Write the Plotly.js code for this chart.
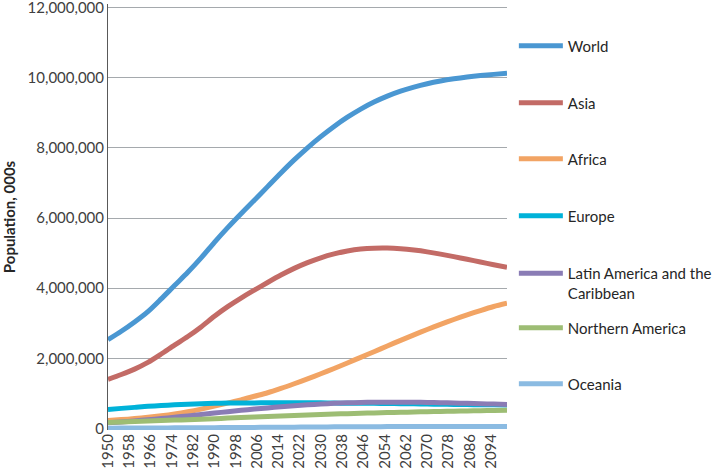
<!DOCTYPE html>
<html>
<head>
<meta charset="utf-8">
<script src="https://cdn.plot.ly/plotly-3.0.1.min.js"></script>
<style>html,body{margin:0;padding:0;background:#fff;}#chart{width:721px;height:471px;}</style>
</head>
<body>
<div id="chart"></div>
<script>
// Years (5-year steps, population in thousands)
const years = [1950,1955,1960,1965,1970,1975,1980,1985,1990,1995,2000,2005,2010,2015,2020,2025,2030,2035,2040,2045,2050,2055,2060,2065,2070,2075,2080,2085,2090,2095,2100];
const world = [2532229,2772882,3038413,3333007,3696186,4076419,4453007,4863290,5306425,5726239,6122770,6506649,6895889,7284296,7656528,8002978,8321380,8611867,8874041,9106022,9306128,9474102,9615036,9731877,9827456,9905465,9969050,10021219,10062527,10094452,10124926];
const asia = [1403389,1541000,1694000,1886000,2125000,2379000,2623000,2897000,3202000,3475000,3719000,3945000,4164000,4375000,4566000,4730000,4868000,4977000,5060000,5116000,5142000,5145000,5125000,5087000,5036000,4972000,4900000,4824000,4747000,4670000,4596000];
const africa = [229895,256000,285000,322000,367000,419000,482000,556000,639000,726000,819000,921000,1022000,1145000,1278000,1417000,1562000,1713000,1870000,2030000,2192000,2354000,2515000,2672000,2824000,2970000,3109000,3241000,3365000,3480000,3574000];
const europe = [547000,576000,605000,635000,657000,677000,694000,707000,721000,727000,727000,730000,738000,740000,739000,737000,733000,728000,723000,721000,719000,715000,710000,705000,699000,694000,689000,685000,681000,678000,675000];
const latam = [167000,191000,220000,252000,286000,323000,362000,402000,442000,483000,521000,557000,590000,622000,652000,678000,701000,719000,734000,744000,751000,754000,754000,751000,745000,738000,729000,719000,709000,698000,688000];
const namerica = [172000,187000,204000,219000,231000,242000,254000,267000,282000,299000,315000,330000,345000,360000,375000,389000,403000,415000,426000,437000,447000,456000,465000,473000,481000,489000,496000,504000,511000,518000,526000];
const oceania = [12700,14200,15800,17800,19700,21300,22900,24900,27000,29100,31200,33900,36600,39300,41900,44400,46900,49100,51200,53300,55200,56500,57600,58300,58800,59100,59400,59500,59500,59600,59600];

const seriesNames = ["World","Asia","Africa","Europe","Latin America and the<br>Caribbean","Northern America","Oceania"];
const seriesData = [world, asia, africa, europe, latam, namerica, oceania];
const colors = ["#4a97d2","#c36b66","#f2a464","#00b2d9","#8a7cb5","#9dbd74","#8bbbe2"];
const tickYears = [1950,1958,1966,1974,1982,1990,1998,2006,2014,2022,2030,2038,2046,2054,2062,2070,2078,2086,2094];
const yTicks = [0,2000000,4000000,6000000,8000000,10000000,12000000];

const FONT = "Lato, 'Open Sans', sans-serif";
const H = 471, T = 4, B = 41;
const plotH = H - T - B;
function py(pix){ return (H - B - pix) / plotH; }
const legendY = [46,103,159,216,272,328,384];

const traces = seriesData.map((d, i) => ({
  x: years, y: d, type: "scatter", mode: "lines",
  name: seriesNames[i],
  line: {color: colors[i], width: 5, shape: "spline", smoothing: 0.8},
  legend: i === 0 ? "legend" : "legend" + (i + 1),
  hoverinfo: "skip"
}));

const layout = {
  width: 721, height: 471,
  margin: {l: 108, r: 206, t: T, b: B},
  paper_bgcolor: "#ffffff", plot_bgcolor: "#ffffff",
  font: {family: FONT, size: 15, color: "#404040"},
  showlegend: true,
  xaxis: {
    range: [1950, 2100], tickvals: tickYears, ticktext: tickYears.map(String),
    tickangle: -90, showgrid: false, zeroline: false, showline: false,
    ticks: "", ticklen: 0, tickfont: {family: FONT, size: 15, color: "#404040"}
  },
  yaxis: {
    range: [-40000, 12100000], tickvals: yTicks,
    ticktext: yTicks.map(v => v.toLocaleString("en-US")),
    ticklabeloverflow: "allow",
    showgrid: true, gridcolor: "#a5a9ad", gridwidth: 1, zeroline: false,
    showline: true, linecolor: "#595959", linewidth: 1, ticks: "",
    tickfont: {family: FONT, size: 15, color: "#404040"},
    title: {text: "Population, 000s", font: {family: FONT, size: 15, color: "#262626", weight: "bold"}, standoff: 10}
  }
};
legendY.forEach((yp, i) => {
  const key = i === 0 ? "legend" : "legend" + (i + 1);
  const multi = seriesNames[i].indexOf("<br>") >= 0;
  layout[key] = {
    x: 1.0 + 7 / 407, xanchor: "left",
    y: multi ? py(yp - 15) : py(yp), yanchor: multi ? "top" : "middle",
    valign: multi ? "top" : "middle",
    itemwidth: 44,
    bgcolor: "rgba(0,0,0,0)", borderwidth: 0,
    font: {family: FONT, size: 15, color: "#262626"}
  };
});

Plotly.newPlot("chart", traces, layout, {staticPlot: true, displayModeBar: false});
</script>
</body>
</html>
